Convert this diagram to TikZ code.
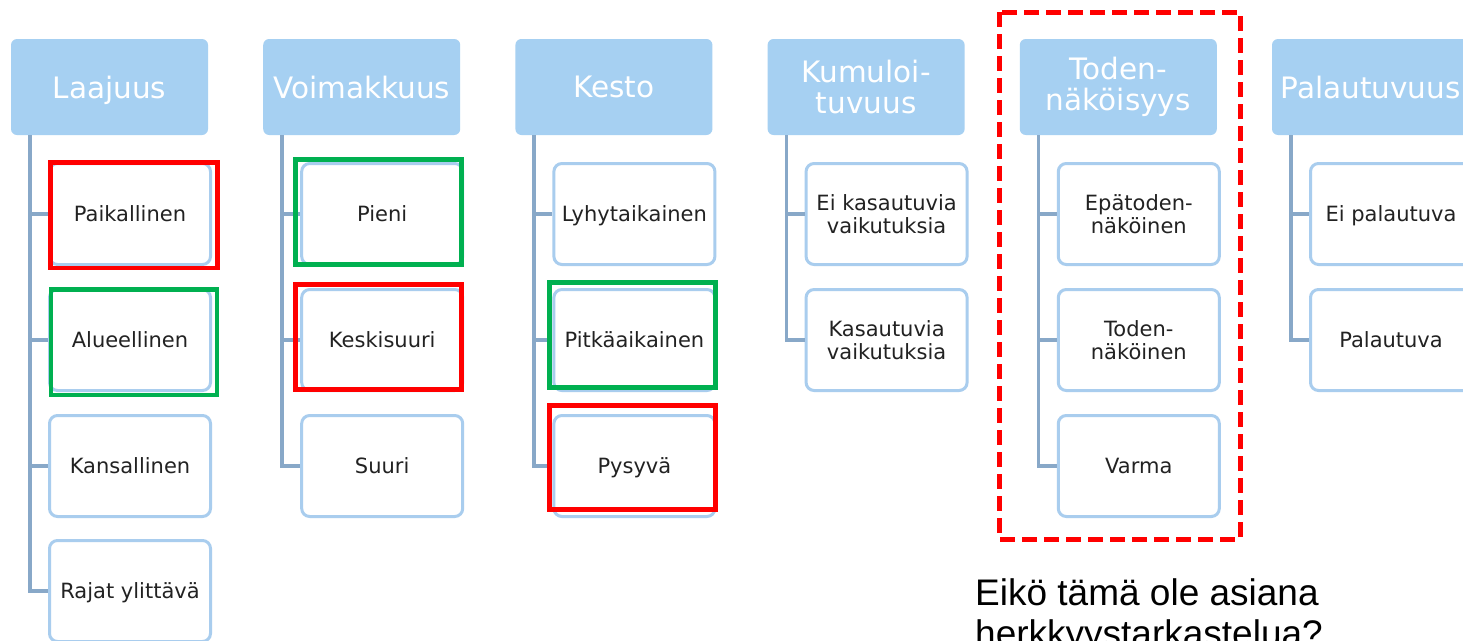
\documentclass[tikz,border=0pt]{standalone}
\usepackage{fontspec}
\setmainfont{DejaVu Sans}
\newfontfamily\arialfont{Liberation Sans}
\definecolor{hdrfill}{HTML}{A6D0F2}
\definecolor{kidline}{HTML}{A9CDEE}
\definecolor{treeline}{HTML}{88A8C8}
\definecolor{kidtext}{HTML}{222222}
\definecolor{hired}{HTML}{FF0000}
\definecolor{higreen}{HTML}{00B050}
\begin{document}
\begin{tikzpicture}[x=1pt,y=-1pt,
  hdr/.style={fill=hdrfill, rounded corners=6pt, minimum width=197pt, minimum height=96pt,
    inner sep=0pt, text=white, font=\fontsize{29.5}{30.5}\selectfont, align=center},
  kid/.style={draw=kidline, line width=3pt, fill=white, rounded corners=8pt,
    minimum width=161pt, minimum height=101pt, inner sep=0pt, text=kidtext,
    font=\fontsize{21}{23.5}\selectfont, align=center},
  oneline/.style={text depth=0pt},
  tree/.style={draw=treeline, line width=3.5pt},
  hibox/.style={line width=4.5pt},
  quest/.style={anchor=base west, inner sep=0pt, font=\arialfont\fontsize{37}{40}\selectfont}]
\useasboundingbox (0,0) rectangle (1463,640);
\clip (0,0) rectangle (1463,640);
\fill[white] (0,0) rectangle (1463,640);

% headers
\node[hdr, oneline] (h1) at (109.5,87) {Laajuus};
\node[hdr, oneline] (h2) at (361.7,87) {Voimakkuus};
\node[hdr, oneline] (h3) at (613.9,87) {Kesto};
\node[hdr] (h4) at (866.1,87) {Kumuloi-\\tuvuus};
\node[hdr] (h5) at (1118.3,87) {Toden-\\näköisyys};
\node[hdr, oneline] (h6) at (1370.5,87) {Palautuvuus};

% tree anchors
\coordinate (t1) at ([xshift=19pt]h1.south west);
\coordinate (t2) at ([xshift=19pt]h2.south west);
\coordinate (t3) at ([xshift=19pt]h3.south west);
\coordinate (t4) at ([xshift=19pt]h4.south west);
\coordinate (t5) at ([xshift=19pt]h5.south west);
\coordinate (t6) at ([xshift=19pt]h6.south west);

% children
\node[kid, oneline] (c11) at (130,214) {Paikallinen};
\node[kid, oneline] (c12) at (130,340) {Alueellinen};
\node[kid, oneline] (c13) at (130,466) {Kansallinen};
\node[kid, oneline] (c14) at (130,591) {Rajat ylittävä};

\node[kid, oneline] (c21) at (382.2,214) {Pieni};
\node[kid, oneline] (c22) at (382.2,340) {Keskisuuri};
\node[kid, oneline] (c23) at (382.2,466) {Suuri};

\node[kid, oneline] (c31) at (634.4,214) {Lyhytaikainen};
\node[kid, oneline] (c32) at (634.4,340) {Pitkäaikainen};
\node[kid, oneline] (c33) at (634.4,466) {Pysyvä};

\node[kid] (c41) at (886.6,214) {Ei kasautuvia\\vaikutuksia};
\node[kid] (c42) at (886.6,340) {Kasautuvia\\vaikutuksia};

\node[kid] (c51) at (1138.8,214) {Epätoden-\\näköinen};
\node[kid] (c52) at (1138.8,340) {Toden-\\näköinen};
\node[kid, oneline] (c53) at (1138.8,466) {Varma};

\node[kid, oneline] (c61) at (1391,214) {Ei palautuva};
\node[kid, oneline] (c62) at (1391,340) {Palautuva};

% tree connectors
\draw[tree] (t1) |- (c14.west);
\draw[tree] (t1 |- c11.west) -- (c11.west);
\draw[tree] (t1 |- c12.west) -- (c12.west);
\draw[tree] (t1 |- c13.west) -- (c13.west);

\draw[tree] (t2) |- (c23.west);
\draw[tree] (t2 |- c21.west) -- (c21.west);
\draw[tree] (t2 |- c22.west) -- (c22.west);

\draw[tree] (t3) |- (c33.west);
\draw[tree] (t3 |- c31.west) -- (c31.west);
\draw[tree] (t3 |- c32.west) -- (c32.west);

\draw[tree] (t4) |- (c42.west);
\draw[tree] (t4 |- c41.west) -- (c41.west);

\draw[tree] (t5) |- (c53.west);
\draw[tree] (t5 |- c51.west) -- (c51.west);
\draw[tree] (t5 |- c52.west) -- (c52.west);

\draw[tree] (t6) |- (c62.west);
\draw[tree] (t6 |- c61.west) -- (c61.west);

% highlight frames
\draw[hibox, draw=hired]   (50.5,162.5) rectangle (217.5,268);
\draw[hibox, draw=higreen] (51,289.5) rectangle (217,395);
\draw[hibox, draw=higreen] (295.5,159.5) rectangle (461.5,264.5);
\draw[hibox, draw=hired]   (295.5,284.5) rectangle (461.5,389.5);
\draw[hibox, draw=higreen] (549.5,282.5) rectangle (715.5,387.5);
\draw[hibox, draw=hired]   (549.5,405.5) rectangle (715.5,509.5);

% dashed frame round the probability column
\draw[draw=hired, line width=5pt, dash pattern=on 15pt off 7pt] (999,12) rectangle (1240,539);

% question
\node[quest] (q1) at (975,605) {Eikö tämä ole asiana};
\node[quest] (q2) at (975,646) {herkkyystarkastelua?};
\end{tikzpicture}
\end{document}
